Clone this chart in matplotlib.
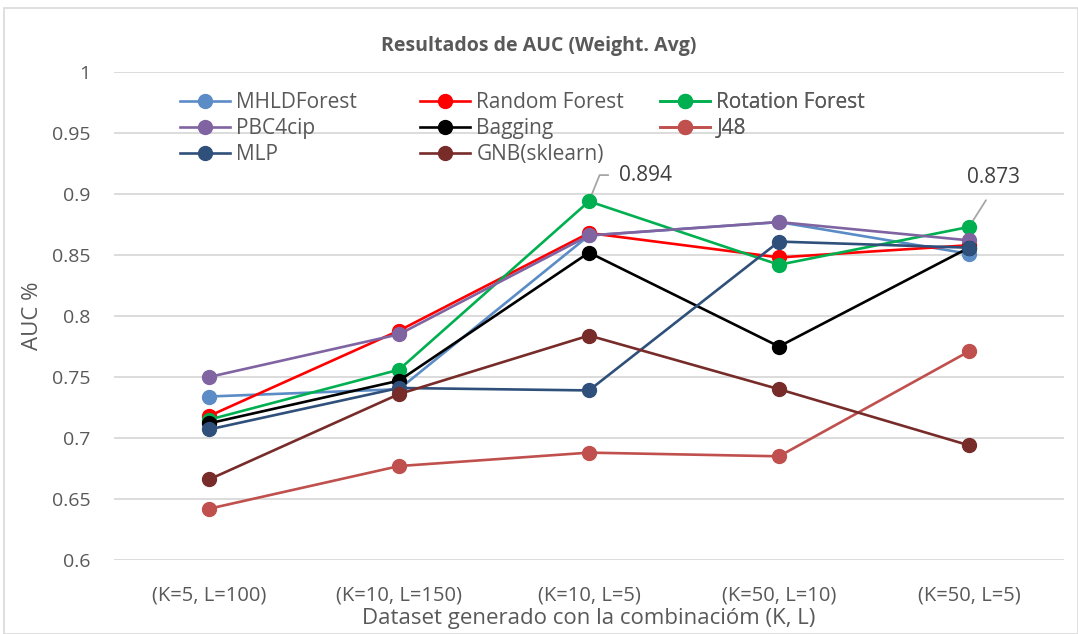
import matplotlib
matplotlib.use('Agg')
import matplotlib.pyplot as plt
from matplotlib.patches import Rectangle

plt.rcParams['font.family'] = ['Open Sans', 'DejaVu Sans']

categories = ['(K=5, L=100)', '(K=10, L=150)', '(K=10, L=5)', '(K=50, L=10)', '(K=50, L=5)']

mhldforest = [0.734, 0.740, 0.866, 0.877, 0.851]
random_forest = [0.718, 0.788, 0.868, 0.848, 0.858]
rotation_forest = [0.715, 0.756, 0.894, 0.842, 0.873]
pbc4cip = [0.750, 0.785, 0.866, 0.877, 0.862]
bagging = [0.712, 0.747, 0.852, 0.775, 0.856]
j48 = [0.642, 0.677, 0.688, 0.685, 0.771]
mlp = [0.707, 0.741, 0.739, 0.861, 0.856]
gnb = [0.666, 0.736, 0.784, 0.740, 0.694]

series = [
    ('MHLDForest', mhldforest, '#5B8CC6'),
    ('Random Forest', random_forest, '#FF0000'),
    ('Rotation Forest', rotation_forest, '#00B050'),
    ('PBC4cip', pbc4cip, '#8064A2'),
    ('Bagging', bagging, '#000000'),
    ('J48', j48, '#C0504D'),
    ('MLP', mlp, '#2F507A'),
    ('GNB(sklearn)', gnb, '#772C2A'),
]

TEXT_GRAY = '#595959'
W, H = 1078, 634

fig = plt.figure(figsize=(W / 100, H / 100), dpi=100)
ax = fig.add_axes([114 / W, 1 - 560 / H, 950 / W, 488 / H])

x = list(range(len(categories)))
handles = {}
for i, (name, vals, col) in enumerate(series):
    ln, = ax.plot(x, vals, color=col, lw=1.9, marker='o', markersize=10, label=name, zorder=3 + i)
    handles[name] = ln

ax.set_xlim(-0.5, len(categories) - 0.5)
ax.set_ylim(0.6, 1.0)
ax.set_yticks([0.6, 0.65, 0.7, 0.75, 0.8, 0.85, 0.9, 0.95, 1.0])
ax.set_yticklabels(['0.6', '0.65', '0.7', '0.75', '0.8', '0.85', '0.9', '0.95', '1'])
ax.set_xticks(x)
ax.set_xticklabels(categories)
ax.tick_params(axis='both', length=0, colors=TEXT_GRAY)
ax.tick_params(axis='y', pad=17, labelsize=14)
ax.tick_params(axis='x', pad=18, labelsize=14.5)
ax.yaxis.grid(True, color='#D9D9D9', lw=1.3)
ax.set_axisbelow(True)
for s in ax.spines.values():
    s.set_visible(False)

ax.set_xlabel('Dataset generado con la combinacióm (K, L)', fontsize=16, color=TEXT_GRAY, labelpad=2)
ax.set_ylabel('AUC %', fontsize=16, color=TEXT_GRAY, labelpad=6)
fig.text(0.5, 1 - 46 / H, 'Resultados de AUC (Weight. Avg)', ha='center', va='center',
         fontsize=14, fontweight='bold', color=TEXT_GRAY)

# data labels
ax.annotate('0.894', xy=(2, rotation_forest[2]), xytext=(2.16, 0.9155), fontsize=15, color='#404040',
            va='center', ha='left',
            arrowprops=dict(arrowstyle='-', color='#A6A6A6', lw=1.3, shrinkA=6, shrinkB=3,
                            relpos=(0, 0.5),
                            connectionstyle='angle,angleA=0,angleB=68,rad=0'))
ax.annotate('0.873', xy=(4, rotation_forest[4]), xytext=(4.13, 0.9135), fontsize=15, color='#404040',
            va='center', ha='center',
            arrowprops=dict(arrowstyle='-', color='#A6A6A6', lw=1.3, shrinkA=8, shrinkB=3,
                            relpos=(0.5, 0)))

# legend, three columns placed like the original
columns = [
    (['MHLDForest', 'PBC4cip', 'MLP'], 180),
    (['Random Forest', 'Bagging', 'GNB(sklearn)'], 420),
    (['Rotation Forest', 'J48'], 660),
]
for names, px in columns:
    leg = ax.legend([handles[n] for n in names], names, loc='upper left',
                    bbox_to_anchor=((px - 114) / 950, 1 - 20 / 488), frameon=False, fontsize=15,
                    handlelength=2.4, handletextpad=0.3, labelspacing=0.24, borderaxespad=0,
                    borderpad=0)
    for t in leg.get_texts():
        t.set_color(TEXT_GRAY)
    ax.add_artist(leg)

fig.patches.append(Rectangle((4 / W, 0), 1 - 4 / W, 1 - 8 / H, transform=fig.transFigure,
                             fill=False, edgecolor='#D9D9D9', lw=1.2))

fig.savefig('out.png', dpi=100)
